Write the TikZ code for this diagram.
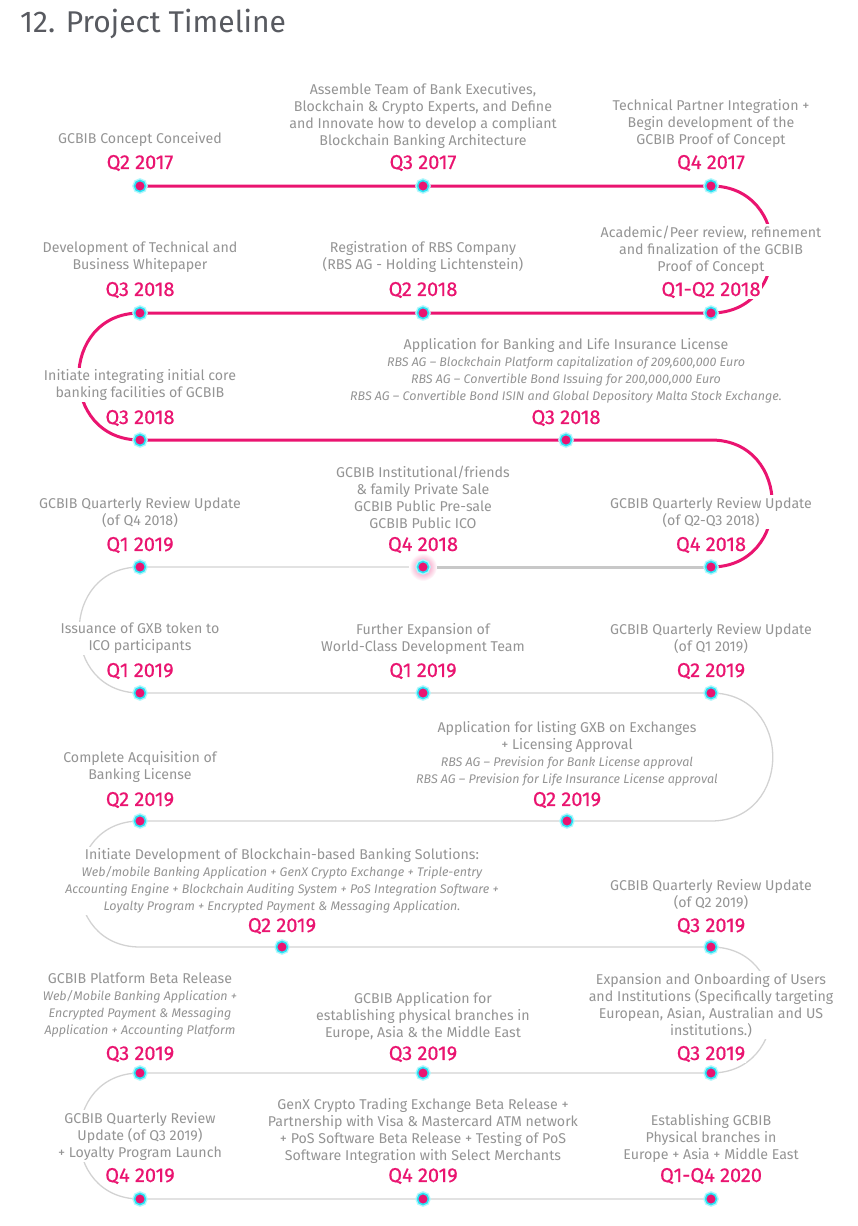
\documentclass[tikz,border=0pt]{standalone}
\usepackage{fontspec}
\setmainfont{Fira Sans}
\newfontfamily\datefont{Fira Sans}[FakeBold=0.6]
\usetikzlibrary{backgrounds}
\definecolor{pinkc}{RGB}{234,20,112}
\definecolor{cyanc}{RGB}{40,228,245}
\definecolor{txtg}{RGB}{148,148,148}
\definecolor{lineg}{RGB}{210,210,210}
\definecolor{progg}{RGB}{200,200,200}
\definecolor{titleg}{RGB}{88,90,96}
\newcommand\il{\fontsize{12.5}{17}\selectfont\itshape}
\begin{document}
\begin{tikzpicture}[x=1pt,y=-1pt,
  dot/.style={circle,fill=pinkc,draw=cyanc,line width=1.6pt,minimum size=11pt,inner sep=0pt,
    preaction={draw=cyanc!35,line width=4.5pt}},
  ev/.style={align=center,text=txtg,fill=white,inner sep=1.5pt,font=\fontsize{14.2}{17}\selectfont},
  dt/.style={text=pinkc,fill=white,inner sep=1pt,font=\datefont\fontsize{20}{22}\selectfont},
  pinkline/.style={draw=pinkc,line width=3pt},
  grayline/.style={draw=lineg,line width=1.3pt},
  progline/.style={draw=progg,line width=3pt},
  turn/.style={looseness=1.65}]
\useasboundingbox (0,0) rectangle (858,1226);
\node[anchor=base west,text=titleg,inner sep=0pt,font=\fontsize{30}{34}\selectfont] (title) at (20,32) {12. Project Timeline};

% ---- dots
\node[dot] (a1) at (140,186) {};
\node[dot] (a2) at (423,186) {};
\node[dot] (a3) at (711,186) {};
\node[dot] (b1) at (140,313) {};
\node[dot] (b2) at (423,313) {};
\node[dot] (b3) at (711,313) {};
\node[dot] (c1) at (140,440) {};
\node[dot] (c2) at (566,440) {};
\coordinate (c3) at (711,440);
\node[dot] (d1) at (140,567) {};
\node[dot] (d2) at (423,567) {};
\node[dot] (d3) at (711,567) {};
\node[dot] (e1) at (140,693) {};
\node[dot] (e2) at (423,693) {};
\node[dot] (e3) at (711,693) {};
\coordinate (f3) at (711,821);
\node[dot] (f2) at (567,821) {};
\node[dot] (f1) at (140,821) {};
\coordinate (g0) at (140,947);
\node[dot] (g1) at (282,947) {};
\node[dot] (g2) at (711,947) {};
\node[dot] (h1) at (140,1073) {};
\node[dot] (h2) at (423,1073) {};
\node[dot] (h3) at (711,1073) {};
\node[dot] (i1) at (140,1199) {};
\node[dot] (i2) at (423,1199) {};
\node[dot] (i3) at (711,1199) {};

% ---- texts
\node[ev] (ta1) at (140,139) {GCBIB Concept Conceived};
\node[dt] (qa1) at (140,163) {Q2 2017};
\node[ev] (ta2) at (423,116) {Assemble Team of Bank Executives,\\Blockchain \& Crypto Experts, and Define\\and Innovate how to develop a compliant\\Blockchain Banking Architecture};
\node[dt] (qa2) at (423,163) {Q3 2017};
\node[ev] (ta3) at (711,123.5) {Technical Partner Integration +\\Begin development of the\\GCBIB Proof of Concept};
\node[dt] (qa3) at (711,163) {Q4 2017};

\node[ev] (tb1) at (140,257) {Development of Technical and\\Business Whitepaper};
\node[dt] (qb1) at (140,290) {Q3 2018};
\node[ev] (tb2) at (423,257) {Registration of RBS Company\\(RBS AG - Holding Lichtenstein)};
\node[dt] (qb2) at (423,290) {Q2 2018};
\node[ev] (tb3) at (711,250) {Academic/Peer review, refinement\\and finalization of the GCBIB\\Proof of Concept};
\node[dt] (qb3) at (711,290) {Q1-Q2 2018};

\node[ev] (tc1) at (140,385) {Initiate integrating initial core\\banking facilities of GCBIB};
\node[dt] (qc1) at (140,418) {Q3 2018};
\node[ev] (tc2) at (566,371) {Application for Banking and Life Insurance License\\{\il RBS AG – Blockchain Platform capitalization of 209,600,000 Euro}\\{\il RBS AG – Convertible Bond Issuing for 200,000,000 Euro}\\{\il RBS AG – Convertible Bond ISIN and Global Depository Malta Stock Exchange.}};
\node[dt] (qc2) at (566,418) {Q3 2018};

\node[ev] (td1) at (140,512) {GCBIB Quarterly Review Update\\(of Q4 2018)};
\node[dt] (qd1) at (140,545) {Q1 2019};
\node[ev] (td2) at (423,497) {GCBIB Institutional/friends\\\& family Private Sale\\GCBIB Public Pre-sale\\GCBIB Public ICO};
\node[dt] (qd2) at (423,545) {Q4 2018};
\node[ev] (td3) at (711,512) {GCBIB Quarterly Review Update\\(of Q2-Q3 2018)};
\node[dt] (qd3) at (711,545) {Q4 2018};

\node[ev] (te1) at (140,638.5) {Issuance of GXB token to\\ICO participants};
\node[dt] (qe1) at (140,671) {Q1 2019};
\node[ev] (te2) at (423,638.5) {Further Expansion of\\World-Class Development Team};
\node[dt] (qe2) at (423,671) {Q1 2019};
\node[ev] (te3) at (711,638.5) {GCBIB Quarterly Review Update\\(of Q1 2019)};
\node[dt] (qe3) at (711,671) {Q2 2019};

\node[ev] (tf1) at (140,766.5) {Complete Acquisition of\\Banking License};
\node[dt] (qf1) at (140,800) {Q2 2019};
\node[ev] (tf2) at (567,754) {Application for listing GXB on Exchanges\\+ Licensing Approval\\{\il RBS AG – Prevision for Bank License approval}\\{\il RBS AG – Prevision for Life Insurance License approval}};
\node[dt] (qf2) at (567,800) {Q2 2019};

\node[ev] (tg1) at (282,881) {Initiate Development of Blockchain-based Banking Solutions:\\{\il Web/mobile Banking Application + GenX Crypto Exchange + Triple-entry}\\{\il Accounting Engine + Blockchain Auditing System + PoS Integration Software +}\\{\il Loyalty Program + Encrypted Payment \& Messaging Application.}};
\node[dt] (qg1) at (282,926) {Q2 2019};
\node[ev] (tg2) at (711,894) {GCBIB Quarterly Review Update\\(of Q2 2019)};
\node[dt] (qg2) at (711,926) {Q3 2019};

\node[ev] (th1) at (140,1005) {GCBIB Platform Beta Release\\{\il Web/Mobile Banking Application +}\\{\il Encrypted Payment \& Messaging}\\{\il Application + Accounting Platform}};
\node[dt] (qh1) at (140,1054) {Q3 2019};
\node[ev] (th2) at (423,1016) {GCBIB Application for\\establishing physical branches in\\Europe, Asia \& the Middle East};
\node[dt] (qh2) at (423,1054) {Q3 2019};
\node[ev] (th3) at (711,1005) {Expansion and Onboarding of Users\\and Institutions (Specifically targeting\\European, Asian, Australian and US\\institutions.)};
\node[dt] (qh3) at (711,1054) {Q3 2019};

\node[ev] (ti1) at (140,1136) {GCBIB Quarterly Review\\Update (of Q3 2019)\\+ Loyalty Program Launch};
\node[dt] (qi1) at (140,1176) {Q4 2019};
\node[ev] (ti2) at (423,1130.5) {GenX Crypto Trading Exchange Beta Release +\\Partnership with Visa \& Mastercard ATM network\\+ PoS Software Beta Release + Testing of PoS\\Software Integration with Select Merchants};
\node[dt] (qi2) at (423,1176) {Q4 2019};
\node[ev] (ti3) at (711,1138) {Establishing GCBIB\\Physical branches in\\Europe + Asia + Middle East};
\node[dt] (qi3) at (711,1176) {Q1-Q4 2020};

% ---- connectors
\begin{scope}[on background layer]
  \draw[pinkline] (a1.center) -- (a2.center) -- (a3.center)
    to[out=0,in=0,turn] (b3.center) -- (b2.center) -- (b1.center)
    to[out=180,in=180,turn] (c1.center) -- (c2.center) -- (c3)
    to[out=0,in=0,turn] (d3.center);
  \draw[progline] (d3.center) -- (d2.center);
  \draw[grayline] (d2.center) -- (d1.center)
    to[out=180,in=180,turn] (e1.center) -- (e2.center) -- (e3.center)
    to[out=0,in=0,turn] (f3) -- (f2.center) -- (f1.center)
    to[out=180,in=180,turn] (g0) -- (g1.center) -- (g2.center)
    to[out=0,in=0,turn] (h3.center) -- (h2.center) -- (h1.center)
    to[out=180,in=180,turn] (i1.center) -- (i2.center) -- (i3.center);
  \shade[inner color=pinkc!60,outer color=white] (d2.center) circle (14pt);
\end{scope}
\end{tikzpicture}
\end{document}
